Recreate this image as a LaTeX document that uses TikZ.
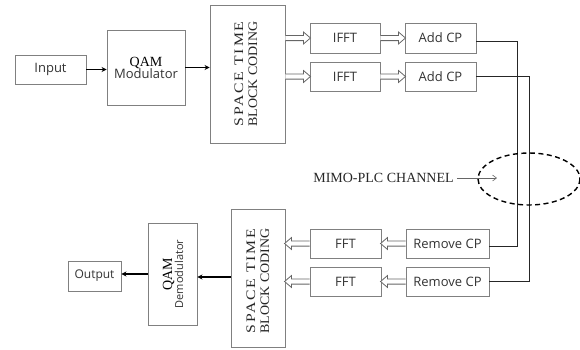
\documentclass[tikz,border=0pt]{standalone}
\usepackage{fontspec}
\setmainfont{Liberation Serif}
\newfontfamily\sansf{Open Sans}
\newfontfamily\spacedserif[LetterSpace=12]{Liberation Serif}
\usetikzlibrary{arrows.meta,calc}
\newcommand{\stbctext}{\resizebox{105pt}{\height}{\spacedserif SPACE TIME}\\\resizebox{105pt}{\height}{BLOCK CODING}}
\tikzset{
  box/.style={draw=black!50, line width=0.9pt, fill=white, inner sep=0pt},
  stxt/.style={font=\sansf\fontsize{13}{15}\selectfont, text=black!80},
  solidarr/.style={line width=1.3pt, -{Stealth[length=5pt,width=5pt]}},
  wire/.style={line width=0.9pt, draw=black!85},
  stbclabel/.style={rotate=90, align=center, font=\fontsize{13}{14}\selectfont, text=black!85, inner sep=0pt},
  pics/harrow/.style={code={
    \draw[line width=0.8pt, draw=black!60, fill=white]
      (0,2.6) -- (#1-7,2.6) -- (#1-7,6) -- (#1,0) -- (#1-7,-6) -- (#1-7,-2.6) -- (0,-2.6);
  }}
}
\begin{document}
\begin{tikzpicture}[x=1pt,y=-1pt]
\path[use as bounding box] (0,0) rectangle (580,349);

% ---------- transmitter ----------
\node[box, stxt, minimum width=71, minimum height=29] (input) at (50.5,69.5) {Input};
\node[box, minimum width=78, minimum height=75, align=center] (qam) at (146,67.5)
  {{\fontsize{14}{15}\selectfont QAM}\\[-1pt]{\sansf\fontsize{13}{15}\selectfont\color{black!80} Modulator}};
\node[box, minimum width=75, minimum height=138] (stbc1) at (247.5,74) {};
\node[stbclabel] (stbc1t) at (246,74) {\stbctext};

\node[box, stxt, minimum width=70, minimum height=30] (ifft1) at (345,38) {IFFT};
\node[box, stxt, minimum width=70, minimum height=29] (ifft2) at (345,76.5) {IFFT};
\node[box, stxt, minimum width=71, minimum height=30] (add1) at (440.5,38) {Add CP};
\node[box, stxt, minimum width=71, minimum height=29] (add2) at (440.5,76.5) {Add CP};

\draw[solidarr] (input.east) -- (input.east -| qam.west);
\draw[solidarr] (qam.east) -- (qam.east -| stbc1.west);

\pic at (stbc1.east |- ifft1.west) {harrow=25};
\pic at (stbc1.east |- ifft2.west) {harrow=25};
\pic at (ifft1.east) {harrow=25};
\pic at (ifft2.east) {harrow=25};

% ---------- receiver ----------
\node[box, stxt, minimum width=71, minimum height=29] (fft1) at (345.5,243.5) {FFT};
\node[box, stxt, minimum width=71, minimum height=29] (fft2) at (345.5,281.5) {FFT};
\node[box, stxt, minimum width=83, minimum height=29] (rem1) at (447.5,243.5) {Remove CP};
\node[box, stxt, minimum width=83, minimum height=29] (rem2) at (447.5,281.5) {Remove CP};
\node[box, minimum width=54, minimum height=138] (stbc2) at (258,278) {};
\node[stbclabel] (stbc2t) at (258,281) {\stbctext};
\node[box, minimum width=49, minimum height=102] (demod) at (172.5,274) {};
\node[rotate=90, align=center, inner sep=0pt] (demodt) at (173,274)
  {{\fontsize{14}{14}\selectfont QAM}\\[-1pt]{\sansf\fontsize{11}{13}\selectfont\color{black!80} Demodulator}};
\node[box, font=\sansf\fontsize{12}{14}\selectfont, text=black!80, minimum width=53, minimum height=30] (output) at (94.5,276) {Output};

\draw[solidarr] (stbc2.west |- 0,277) -- (demod.east |- 0,277);
\draw[solidarr] (demod.west |- 0,274) -- (output.east |- 0,274);

\pic[rotate=180] at (rem1.west) {harrow=25};
\pic[rotate=180] at (rem2.west) {harrow=25};
\pic[rotate=180] at (fft1.west) {harrow=25};
\pic[rotate=180] at (fft2.west) {harrow=25};

% ---------- channel ----------
\coordinate (j1) at (517,0);
\coordinate (j2) at (529,0);
\draw[wire] ($(add1.east)+(0,3.5)$) -- ($(add1.east -| j1)+(0,3.5)$) -- ($(j1 |- rem1.east)+(0,2.5)$) -- ($(rem1.east)+(0,2.5)$);
\draw[wire] (add2.east) -- (add2.east -| j2) -- (j2 |- rem2.east) -- (rem2.east);

\draw[line width=1.4pt, dash pattern=on 5pt off 3.5pt] (529,179) ellipse [x radius=51, y radius=26];

\node[font=\fontsize{14}{16}\selectfont, text=black!85, inner sep=0pt] (mimo) at (383.5,178) {MIMO-PLC CHANNEL};
\coordinate (mimoend) at (497,178);
\draw[line width=0.6pt, draw=black!60, -{Straight Barb[length=4pt,width=6pt]}] ($(mimo.east)+(3,0)$) -- (mimoend);
\end{tikzpicture}
\end{document}
